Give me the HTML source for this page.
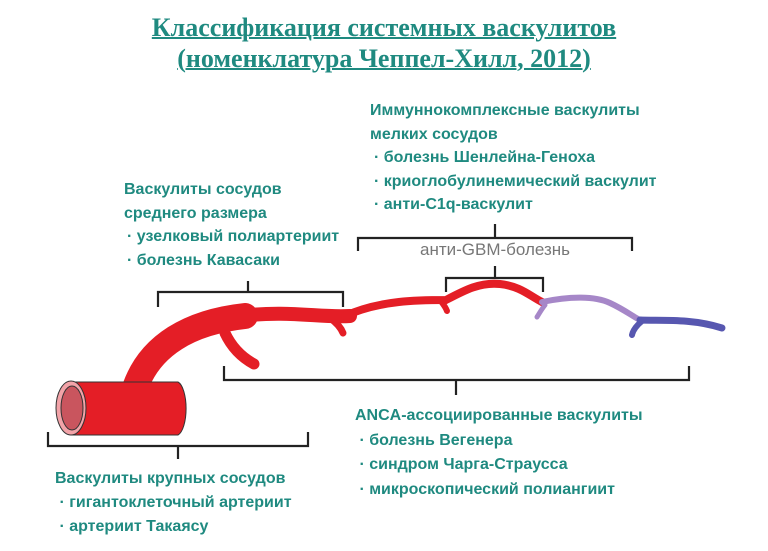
<!DOCTYPE html>
<html><head><meta charset="utf-8"><style>
body{margin:0;width:768px;height:551px;background:#fff;overflow:hidden;position:relative}
.t{position:absolute;left:0;width:768px;text-align:center;font-family:"Liberation Serif",serif;font-weight:bold;font-size:26px;color:#1f8a80;text-decoration:underline;text-decoration-thickness:2px}
.l{position:absolute;font-family:"Liberation Sans",sans-serif;font-weight:bold;font-size:16px;color:#1f8a80;white-space:nowrap;line-height:20px}
</style></head><body>
<div class="t" style="top:13px">Классификация системных васкулитов</div>
<div class="t" style="top:44px">(номенклатура Чеппел-Хилл, 2012)</div>
<svg width="768" height="551" style="position:absolute;left:0;top:0">
<g fill="none" stroke="#222" stroke-width="2.2">
<path d="M158,307 V292 H343 V307 M248,292 V281"/>
<path d="M358,251 V238 H632 V251 M495,238 V224"/>
<path d="M446,292 V278 H543 V292 M495,278 V266"/>
<path d="M224,366 V380 H689 V366 M456,380 V395"/>
<path d="M48,432 V446 H308 V432 M178,446 V459"/>
</g>
<g fill="none" stroke-linecap="round">
<path d="M135,388 C150,345 190,322 245,316" stroke="#e41e26" stroke-width="26"/>
<path d="M240,316 C290,310 320,318 350,316" stroke="#e41e26" stroke-width="14"/>
<path d="M225,333 C232,348 243,358 254,364" stroke="#e41e26" stroke-width="11"/>
<path d="M330,318 C337,323 341,328 343,333" stroke="#e41e26" stroke-width="7"/>
<path d="M345,316 C380,300 420,300 446,300 C465,290 480,282 500,284 C520,286 530,296 542,302" stroke="#e41e26" stroke-width="8"/>
<path d="M440,300 C444,305 446,308 447,311" stroke="#e41e26" stroke-width="6"/>
<path d="M542,302 C570,296 595,296 610,303 C625,310 632,316 640,320" stroke="#a687c8" stroke-width="6"/>
<path d="M545,305 C541,310 539,314 537,317" stroke="#a687c8" stroke-width="5"/>
<path d="M640,320 C660,321 690,318 722,328" stroke="#5757b0" stroke-width="7"/>
<path d="M642,321 C636,326 633,330 632,335" stroke="#5757b0" stroke-width="6"/>
</g>
<path d="M71,382 H178 A10,27 0 0 1 178,435 H71 Z" fill="#e41e26" stroke="#333" stroke-width="1"/>
<ellipse cx="71" cy="408" rx="15" ry="27" fill="#f2a3a8" stroke="#333" stroke-width="1"/>
<ellipse cx="72" cy="408" rx="11" ry="22" fill="#c9555e" stroke="#333" stroke-width="1"/>
</svg>
<div class="l" style="left:370px;top:99px;line-height:24px">Иммуннокомплексные васкулиты<br>мелких сосудов</div>
<div class="l" style="left:374px;top:146px;line-height:23.5px">· болезнь Шенлейна-Геноха<br>· криоглобулинемический васкулит<br>· анти-C1q-васкулит</div>
<div class="l" style="left:124px;top:178px;line-height:24px">Васкулиты сосудов<br>среднего размера</div>
<div class="l" style="left:127px;top:225px;line-height:24px">· узелковый полиартериит<br>· болезнь Кавасаки</div>
<div class="l" style="left:420px;top:240px;font-weight:normal;color:#777;font-size:17px">анти-GBM-болезнь</div>
<div class="l" style="left:355px;top:404px;line-height:24.5px">ANCA-ассоциированные васкулиты<br>&nbsp;· болезнь Вегенера<br>&nbsp;· синдром Чарга-Страусса<br>&nbsp;· микроскопический полиангиит</div>
<div class="l" style="left:55px;top:467px;line-height:24px">Васкулиты крупных сосудов<br>&nbsp;· гигантоклеточный артериит<br>&nbsp;· артериит Такаясу</div>
</body></html>
